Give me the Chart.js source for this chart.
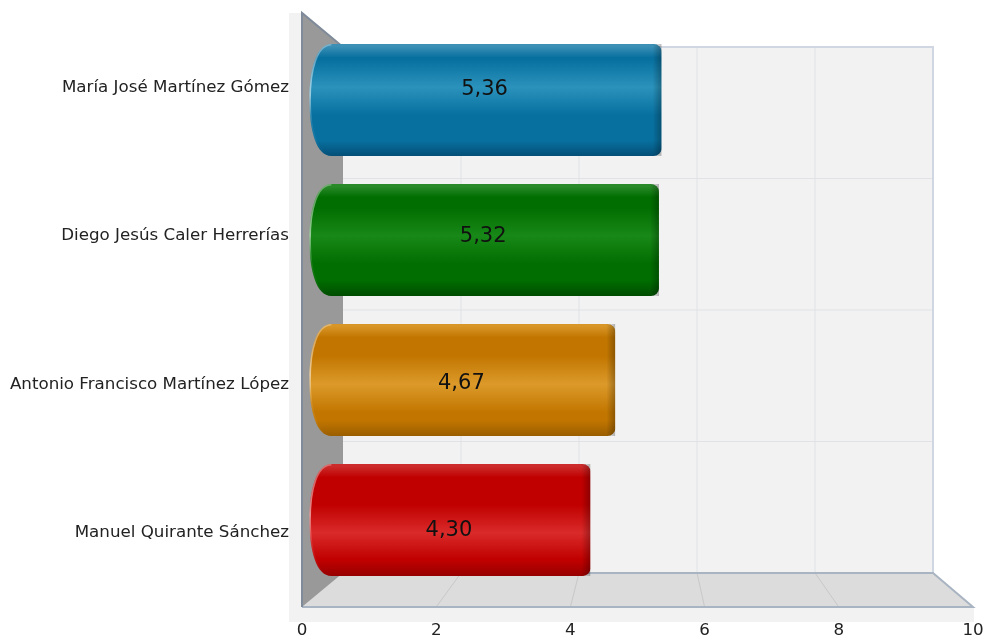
<!DOCTYPE html>
<html>
<head>
<meta charset="utf-8">
<title>Chart</title>
<script src="https://cdn.jsdelivr.net/npm/chart.js@4"></script>
<style>
  html, body { margin: 0; padding: 0; background: #fff; }
  #chart { display: block; }
</style>
</head>
<body>
<canvas id="chart" width="986" height="638"></canvas>
<script>
const names = ['María José Martínez Gómez', 'Diego Jesús Caler Herrerías', 'Antonio Francisco Martínez López', 'Manuel Quirante Sánchez'];
const scores = [5.36, 5.32, 4.67, 4.30];

const baseColors = ['#08709f', '#006e00', '#c27600', '#c00000'];
const lightColors = ['#2a92bb', '#188818', '#dc9a2a', '#da2a2a'];
const darkColors = ['#044f78', '#004c00', '#9a5e00', '#960000'];
const rimColors = ['#3c90b6', '#2a8a2a', '#d89628', '#cc2c2c'];

const fontName = '"DejaVu Sans", sans-serif';
const depthX = 41;
const depthY = 34;
const barScale = 0.9428; // bars stand half way between front plane and back wall

function centerY(chart) {
    return (chart.chartArea.top + chart.chartArea.bottom) / 2;
}

// Where a bar really ends up on screen once the depth squeeze is applied
function screenY(chart, y) {
    const mid = centerY(chart);
    return mid + (y - mid) * barScale;
}

// Vertical shine of one cylinder, the bright band sits level with the label
function barGradient(context) {
    const chart = context.chart;
    const scale = chart.scales.y;
    if (!scale || !chart.chartArea) return baseColors[context.dataIndex];
    const i = context.dataIndex;
    const py = scale.getPixelForValue(i);
    const half = scale.height / names.length * 0.4;
    const g = chart.ctx.createLinearGradient(0, py - half, 0, py + half);
    const shine = (py - (screenY(chart, py) - half * barScale)) / (2 * half * barScale);
    g.addColorStop(0, rimColors[i]);
    g.addColorStop(0.02, rimColors[i]);
    g.addColorStop(0.12, baseColors[i]);
    g.addColorStop(Math.max(0.13, shine - 0.25), baseColors[i]);
    g.addColorStop(shine, lightColors[i]);
    g.addColorStop(Math.min(0.85, shine + 0.25), baseColors[i]);
    g.addColorStop(0.86, baseColors[i]);
    g.addColorStop(1, darkColors[i]);
    return g;
}

// The 3D box behind the bars: back wall, left wall, floor and their grid lines
const boxPlugin = {
    id: 'box',
    beforeDatasetsDraw(chart) {
        const { ctx, chartArea: a, scales } = chart;
        const backLeft = a.left + depthX;
        const backRight = a.right - depthX + 1;
        const backTop = a.top + depthY;
        const backBottom = a.bottom - depthY;
        const ticks = scales.x.ticks.map(t => t.value);
        const backX = v => backLeft + (backRight - backLeft) * (v - scales.x.min) / (scales.x.max - scales.x.min);

        ctx.save();

        // pale strips beside the axes
        ctx.fillStyle = '#f2f2f2';
        ctx.fillRect(a.left - 13, a.top, 13, a.bottom - a.top + 15);
        ctx.fillRect(a.left, a.bottom, a.right - a.left + 1, 15);

        // back wall
        ctx.fillRect(backLeft, backTop, backRight - backLeft, backBottom - backTop);
        ctx.strokeStyle = '#e0e2e5';
        ctx.lineWidth = 1;
        ticks.slice(1, -1).forEach(v => {
            ctx.beginPath();
            ctx.moveTo(backX(v), backTop);
            ctx.lineTo(backX(v), backBottom);
            ctx.stroke();
        });
        for (let i = 1; i < names.length; i++) {
            const y = backTop + (backBottom - backTop) * i / names.length;
            ctx.beginPath();
            ctx.moveTo(backLeft, y);
            ctx.lineTo(backRight, y);
            ctx.stroke();
        }
        ctx.strokeStyle = '#d0d7e2';
        ctx.lineWidth = 2;
        ctx.beginPath();
        ctx.moveTo(backLeft, backTop);
        ctx.lineTo(backRight, backTop);
        ctx.lineTo(backRight, backBottom);
        ctx.stroke();

        // floor
        ctx.fillStyle = '#dcdcdc';
        ctx.beginPath();
        ctx.moveTo(a.left, a.bottom);
        ctx.lineTo(backLeft, backBottom);
        ctx.lineTo(backRight, backBottom);
        ctx.lineTo(a.right, a.bottom);
        ctx.closePath();
        ctx.fill();
        ctx.strokeStyle = '#c8c8c8';
        ctx.lineWidth = 1;
        ticks.slice(1, -1).forEach(v => {
            ctx.beginPath();
            ctx.moveTo(backX(v), backBottom);
            ctx.lineTo(scales.x.getPixelForValue(v), a.bottom);
            ctx.stroke();
        });
        ctx.strokeStyle = '#a9b4c2';
        ctx.lineWidth = 2;
        ctx.beginPath();
        ctx.moveTo(backLeft, backBottom);
        ctx.lineTo(backRight, backBottom);
        ctx.lineTo(a.right, a.bottom);
        ctx.lineTo(a.left, a.bottom);
        ctx.stroke();

        // left wall
        ctx.fillStyle = '#999999';
        ctx.beginPath();
        ctx.moveTo(a.left, a.top);
        ctx.lineTo(backLeft, backTop);
        ctx.lineTo(backLeft, backBottom);
        ctx.lineTo(a.left, a.bottom);
        ctx.closePath();
        ctx.fill();
        ctx.strokeStyle = '#7f8b9a';
        ctx.beginPath();
        ctx.moveTo(backLeft, backTop);
        ctx.lineTo(a.left, a.top);
        ctx.lineTo(a.left, a.bottom);
        ctx.stroke();

        ctx.restore();
    }
};

// Rounded left end of a bar, in the squeezed drawing space
function capPath(ctx, bar, halfH) {
    const x0 = bar.base;
    const top = bar.y - halfH;
    const bottom = bar.y + halfH;
    ctx.moveTo(x0 + 22, top);
    ctx.bezierCurveTo(x0 + 7, top, x0, top + halfH * 0.45, x0, bar.y);
    ctx.bezierCurveTo(x0, bottom - halfH * 0.45, x0 + 7, bottom, x0 + 22, bottom);
}

const cylinderPlugin = {
    id: 'cylinder',
    beforeDatasetDraw(chart, args) {
        const { ctx, scales } = chart;
        const mid = centerY(chart);
        ctx.save();
        ctx.translate(0, mid);
        ctx.scale(1, barScale);
        ctx.translate(0, -mid);
        const half = scales.y.height / names.length * 0.4;
        ctx.beginPath();
        args.meta.data.forEach(bar => {
            capPath(ctx, bar, half);
            ctx.lineTo(bar.x, bar.y + half);
            ctx.lineTo(bar.x, bar.y - half);
            ctx.closePath();
        });
        ctx.clip();
    },
    afterDatasetDraw(chart, args) {
        const { ctx, scales } = chart;
        const half = scales.y.height / names.length * 0.4;
        args.meta.data.forEach((bar, i) => {
            // dark rim at the right end
            const edge = ctx.createLinearGradient(bar.x - 9, 0, bar.x, 0);
            edge.addColorStop(0, 'rgba(0,0,0,0)');
            edge.addColorStop(1, 'rgba(0,0,0,0.28)');
            ctx.fillStyle = edge;
            ctx.fillRect(bar.x - 9, bar.y - half, 9, half * 2);

            // light crescent on the left end
            const glow = ctx.createLinearGradient(0, bar.y - half, 0, bar.y + half);
            glow.addColorStop(0, 'rgba(255,255,255,0.3)');
            glow.addColorStop(0.45, 'rgba(255,255,255,0.55)');
            glow.addColorStop(0.7, 'rgba(255,255,255,0.1)');
            glow.addColorStop(1, 'rgba(255,255,255,0)');
            ctx.strokeStyle = glow;
            ctx.lineWidth = 3;
            ctx.beginPath();
            capPath(ctx, bar, half);
            ctx.stroke();
        });
        ctx.restore();

        // value labels
        ctx.save();
        ctx.fillStyle = '#111111';
        ctx.font = '21px ' + fontName;
        ctx.textAlign = 'center';
        ctx.textBaseline = 'middle';
        const mid = centerY(chart);
        args.meta.data.forEach((bar, i) => {
            const y = mid + (scales.y.getPixelForValue(i) - mid) * 0.99;
            ctx.fillText(scores[i].toFixed(2).replace('.', ','), (bar.x + bar.base) / 2 - 1, y);
        });
        ctx.restore();
    }
};

new Chart(document.getElementById('chart'), {
    type: 'bar',
    data: {
        labels: names,
        datasets: [
            {
                data: scores,
                backgroundColor: barGradient,
                borderWidth: 0,
                borderSkipped: false,
                borderRadius: { topLeft: 0, bottomLeft: 0, topRight: 8, bottomRight: 8 },
                base: 0.11,
                barPercentage: 0.8,
                categoryPercentage: 1,
            },
        ],
    },
    options: {
        indexAxis: 'y',
        responsive: false,
        animation: false,
        layout: { padding: { top: 13, right: 13 } },
        plugins: {
            legend: { display: false },
            tooltip: { enabled: false },
        },
        scales: {
            x: {
                min: 0,
                max: 10,
                ticks: {
                    stepSize: 2,
                    maxRotation: 0,
                    padding: 6,
                    color: '#222222',
                    font: { family: fontName, size: 16.7 },
                },
                grid: { display: false },
                border: { display: false },
                afterFit(scale) {
                    scale.height = 31;
                    scale.paddingRight = 0;
                },
            },
            y: {
                ticks: {
                    padding: 5,
                    color: '#222222',
                    font: { family: fontName, size: 16.7 },
                },
                grid: { display: false },
                border: { display: false },
                afterFit(scale) {
                    scale.width = 302;
                    scale.paddingTop = 0;
                    scale.paddingBottom = 0;
                },
            },
        },
    },
    plugins: [boxPlugin, cylinderPlugin],
});
</script>
</body>
</html>
